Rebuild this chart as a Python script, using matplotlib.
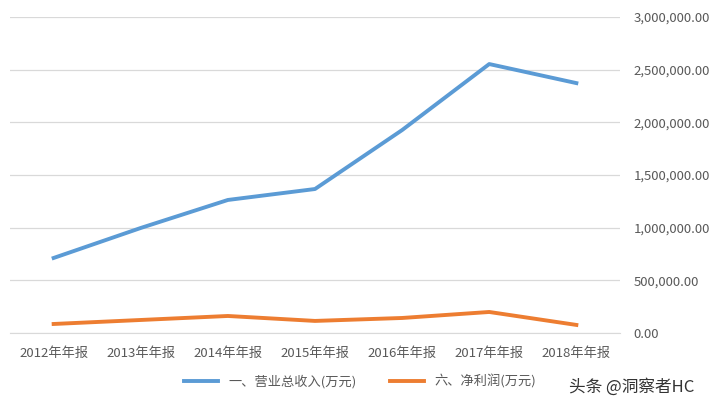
import matplotlib
matplotlib.use("Agg")
import matplotlib.pyplot as plt
from matplotlib.ticker import FuncFormatter

plt.rcParams['font.family'] = ['Noto Sans CJK SC', 'DejaVu Sans']

categories = ["2012年年报", "2013年年报", "2014年年报", "2015年年报", "2016年年报", "2017年年报", "2018年年报"]
revenue = [712000, 997000, 1263000, 1367000, 1927000, 2554000, 2373000]
profit = [85000, 123000, 161000, 114000, 142000, 199000, 76000]
series_names = ["一、营业总收入(万元)", "六、净利润(万元)"]

fig = plt.figure(figsize=(7.2, 4.07), dpi=100)
ax = fig.add_axes([0.014, 0.182, 0.847, 0.776])
x = range(len(categories))
ax.plot(x, revenue, color="#5B9BD5", lw=2.8, label=series_names[0])
ax.plot(x, profit, color="#ED7D31", lw=2.8, label=series_names[1])
ax.set_xlim(-0.5, 6.5)
ax.set_ylim(0, 3000000)
ax.set_yticks(range(0, 3000001, 500000))
ax.yaxis.set_major_formatter(FuncFormatter(lambda v, p: f"{v:,.2f}"))
ax.yaxis.tick_right()
ax.set_xticks(list(x))
ax.set_xticklabels(categories)
ax.tick_params(length=0, labelsize=9.5, colors="#595959")
ax.tick_params(axis='x', pad=10)
ax.tick_params(axis='y', pad=10)
ax.grid(axis='y', color="#D9D9D9", lw=0.9)
ax.set_axisbelow(True)
for s in ['top', 'right', 'left']:
    ax.spines[s].set_visible(False)
ax.spines['bottom'].set_color("#D9D9D9")
fig.legend(loc="center", bbox_to_anchor=(0.5, 0.062), ncol=2, frameon=False,
           fontsize=9.5, labelcolor="#595959", handlelength=2.6, columnspacing=2.5)
fig.text(0.79, 0.05, "头条 @洞察者HC", fontsize=12, color="#333333", va="center")
fig.savefig("out.png", dpi=100)
